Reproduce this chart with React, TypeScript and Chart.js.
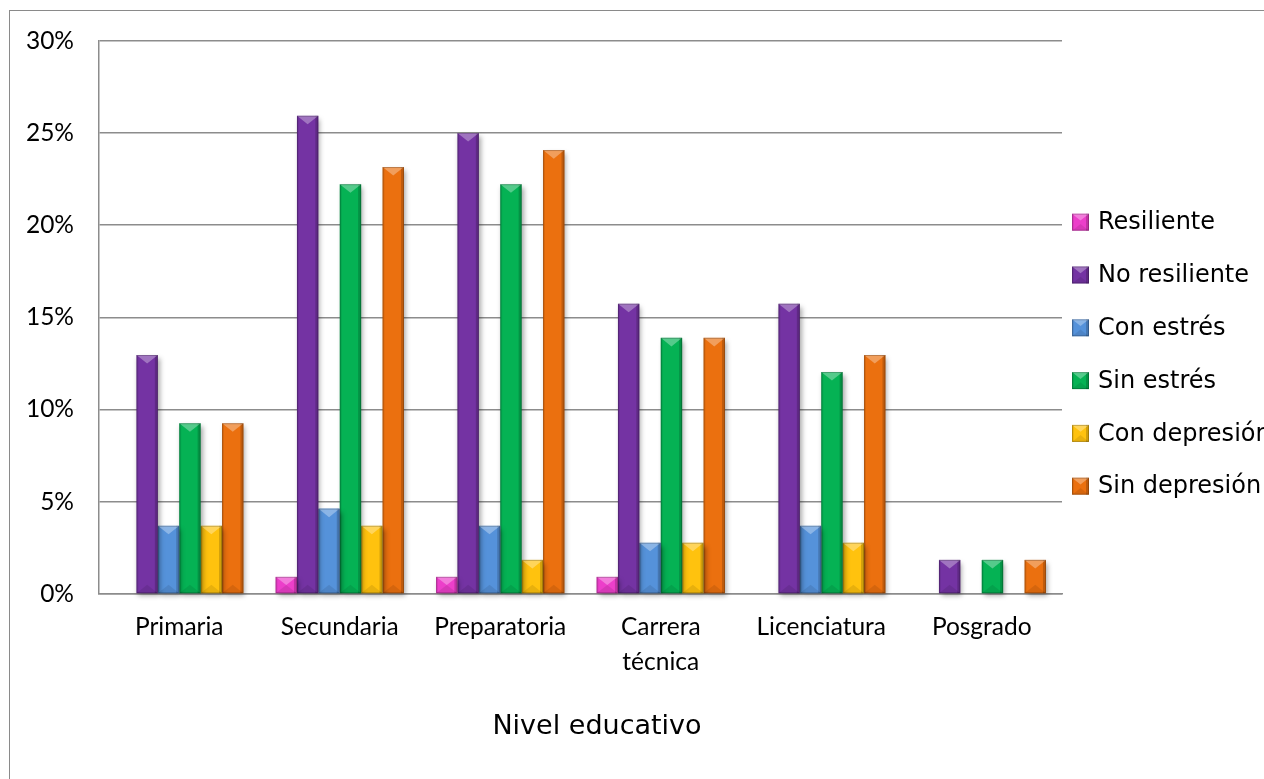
import { useEffect, useRef } from "react";
import { Chart, registerables } from "chart.js";

Chart.register(...registerables);

// Nivel educativo categories (multi-line label where the axis wraps it)
const categories: (string | string[])[] = [
  "Primaria",
  "Secundaria",
  "Preparatoria",
  ["Carrera", "técnica"],
  "Licenciatura",
  "Posgrado",
];

const seriesNames = [
  "Resiliente",
  "No resiliente",
  "Con estrés",
  "Sin estrés",
  "Con depresión",
  "Sin depresión",
];

// Percentages per education level
const resiliente = [0, 0.93, 0.93, 0.93, 0, 0];
const noResiliente = [12.96, 25.93, 25.0, 15.74, 15.74, 1.85];
const conEstres = [3.7, 4.63, 3.7, 2.78, 3.7, 0];
const sinEstres = [9.26, 22.22, 22.22, 13.89, 12.04, 1.85];
const conDepresion = [3.7, 3.7, 1.85, 2.78, 2.78, 0];
const sinDepresion = [9.26, 23.15, 24.07, 13.89, 12.96, 1.85];

const seriesValues = [resiliente, noResiliente, conEstres, sinEstres, conDepresion, sinDepresion];

const seriesColors = ["#EC3FCA", "#7433A3", "#5592DA", "#05B254", "#FFC20E", "#EB700F"];

const yMax = 30;
const yStep = 5;
const axisTitle = "Nivel educativo";

const CANVAS_W = 1300;
const CANVAS_H = 800;

// Draws the bevelled facets on top of a filled rectangle
function drawBevel(ctx: CanvasRenderingContext2D, l: number, t: number, w: number, h: number) {
  const d = Math.min(w * 0.4, h / 2);
  ctx.save();
  ctx.fillStyle = "rgba(0,0,0,0.18)";
  ctx.fillRect(l + w - 3, t, 3, h);
  ctx.fillStyle = "rgba(0,0,0,0.07)";
  ctx.fillRect(l, t, 2, h);
  ctx.beginPath();
  ctx.moveTo(l, t);
  ctx.lineTo(l + w, t);
  ctx.lineTo(l + w / 2, t + d);
  ctx.closePath();
  ctx.fillStyle = "rgba(255,255,255,0.32)";
  ctx.fill();
  ctx.beginPath();
  ctx.moveTo(l, t + h);
  ctx.lineTo(l + w, t + h);
  ctx.lineTo(l + w / 2, t + h - d);
  ctx.closePath();
  ctx.fillStyle = "rgba(0,0,0,0.09)";
  ctx.fill();
  ctx.strokeStyle = "rgba(0,0,0,0.22)";
  ctx.lineWidth = 1;
  ctx.strokeRect(l + 0.5, t + 0.5, w - 1, h - 1);
  ctx.restore();
}

const bevelPlugin = {
  id: "bevelBars",
  beforeDatasetsDraw(chart: any) {
    const ctx = chart.ctx as CanvasRenderingContext2D;
    ctx.save();
    ctx.shadowColor = "rgba(0,0,0,0.35)";
    ctx.shadowBlur = 5;
    ctx.shadowOffsetX = 2;
    ctx.shadowOffsetY = 3;
  },
  afterDatasetsDraw(chart: any) {
    const ctx = chart.ctx as CanvasRenderingContext2D;
    ctx.restore();
    chart.data.datasets.forEach((_ds: any, i: number) => {
      const meta = chart.getDatasetMeta(i);
      meta.data.forEach((el: any) => {
        const { x, y, base, width } = el.getProps(["x", "y", "base", "width"], true);
        const h = base - y;
        if (h < 1) return;
        drawBevel(ctx, x - width / 2, y, width, h);
      });
    });
  },
};

const sideLegendPlugin = {
  id: "sideLegend",
  afterDraw(chart: any) {
    const ctx = chart.ctx as CanvasRenderingContext2D;
    const area = chart.chartArea;
    ctx.save();
    ctx.font = "24px 'Comic Sans MS', 'DejaVu Sans', sans-serif";
    ctx.textBaseline = "middle";
    ctx.textAlign = "left";
    const box = 17;
    chart.data.datasets.forEach((ds: any, i: number) => {
      const cy = area.top + 181.5 + i * 52.8;
      const bx = area.right + 10;
      ctx.fillStyle = ds.backgroundColor;
      ctx.fillRect(bx, cy - box / 2, box, box);
      drawBevel(ctx, bx, cy - box / 2, box, box);
      ctx.fillStyle = "#000";
      ctx.fillText(ds.label, bx + 26, cy + 1);
    });
    ctx.font = "27px 'Comic Sans MS', 'DejaVu Sans', sans-serif";
    ctx.textAlign = "center";
    ctx.fillStyle = "#000";
    ctx.fillText(axisTitle, (area.left + area.right) / 2 + 16.5, area.bottom + 133);
    ctx.restore();
  },
};

export default function App() {
  const canvasRef = useRef<HTMLCanvasElement | null>(null);

  useEffect(() => {
    document.documentElement.style.overflow = "hidden";
    const canvas = canvasRef.current;
    if (!canvas) return;
    const chart = new Chart(canvas, {
      type: "bar",
      data: {
        labels: categories as any,
        datasets: seriesNames.map((name, i) => ({
          label: name,
          data: seriesValues[i],
          backgroundColor: seriesColors[i],
          borderWidth: 0,
          categoryPercentage: 0.8,
          barPercentage: 1.0,
          clip: false as any,
        })),
      },
      options: {
        responsive: false,
        maintainAspectRatio: false,
        animation: false,
        devicePixelRatio: 1,
        layout: { padding: { top: 29.7, left: 0, right: CANVAS_W - 1052, bottom: CANVAS_H - 583 - 120 } },
        plugins: {
          legend: { display: false },
          tooltip: { enabled: false },
        },
        scales: {
          x: {
            offset: true,
            grid: { display: false, drawTicks: false },
            border: { display: true, color: "#8c8c8c", width: 1.5 },
            ticks: {
              color: "#000",
              padding: 16,
              maxRotation: 0,
              autoSkip: false,
              font: { family: "Lato, 'Noto Sans', sans-serif", size: 24.5, lineHeight: 35 / 24.5 },
            },
            afterFit: (s: any) => {
              s.height = 120;
              s.paddingLeft = 0;
              s.paddingRight = 0;
            },
          },
          y: {
            min: 0,
            max: yMax,
            grid: { color: "#8c8c8c", lineWidth: 1.5, drawTicks: false },
            border: { display: true, color: "#8c8c8c", width: 1.5 },
            ticks: {
              stepSize: yStep,
              color: "#000",
              padding: 25,
              font: { family: "Lato, 'Noto Sans', sans-serif", size: 24.5 },
              callback: (v: any) => `${v}%`,
            },
            afterFit: (s: any) => {
              s.width = 89;
              s.paddingTop = 0;
              s.paddingBottom = 0;
            },
          },
        },
      },
      plugins: [bevelPlugin, sideLegendPlugin],
    });
    return () => chart.destroy();
  }, []);

  return (
    <div
      style={{
        position: "fixed",
        left: 0,
        top: 0,
        width: 1264,
        height: 779,
        overflow: "hidden",
        background: "#fff",
        maxWidth: "none",
      }}
    >
      <div
        style={{
          position: "absolute",
          left: 9,
          top: 10,
          boxSizing: "content-box",
          border: "1px solid #8a8a8a",
          width: CANVAS_W,
          height: CANVAS_H,
          maxWidth: "none",
          maxHeight: "none",
        }}
      >
        <canvas
          ref={canvasRef}
          width={CANVAS_W}
          height={CANVAS_H}
          style={{ display: "block", maxWidth: "none", maxHeight: "none" }}
        />
      </div>
    </div>
  );
}
